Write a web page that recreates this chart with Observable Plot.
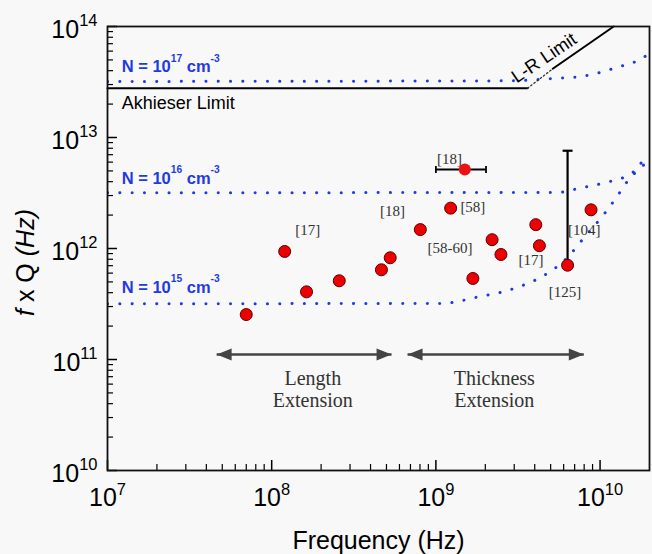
<!DOCTYPE html>
<html><head><meta charset="utf-8">
<script src="https://cdn.jsdelivr.net/npm/d3@7"></script>
<script src="https://cdn.jsdelivr.net/npm/@observablehq/plot@0.6"></script>
<style>body{margin:0;background:#f8f8f8}</style>
</head><body><div id="chart"></div>
<script>
// ---- data ----
const freq = [7.0e7, 1.20e8, 1.63e8, 2.58e8, 4.66e8, 5.27e8, 8.04e8, 1.23e9, 1.68e9, 2.20e9, 2.49e9, 4.06e9, 4.27e9, 6.34e9, 8.81e9];
const fq   = [2.54e11, 9.4e11, 4.07e11, 5.12e11, 6.43e11, 8.25e11, 1.48e12, 2.31e12, 5.37e11, 1.20e12, 8.83e11, 1.64e12, 1.06e12, 7.07e11, 2.23e12];

// point with horizontal error bar ([18])
const errHX = [1.50e9], errHY = [5.15e12], errHLo = [1.0e9], errHHi = [2.02e9];
// vertical error bar on [125]
const errVX = [6.34e9], errVLo = [7.07e11], errVHi = [7.6e12];

// N = 10^15, 10^16, 10^17 cm^-3 curves
const n17X = [1e7, 2.87e9, 4.80e9, 7.66e9, 1.22e10, 1.95e10, 2e10];
const n17Y = [3.2e13, 3.24e13, 3.38e13, 3.55e13, 4.21e13, 5.6e13, 5.8e13];
const n16X = [1e7, 5.5e9, 7.66e9, 1.11e10, 1.48e10, 1.78e10, 2e10];
const n16Y = [3.18e12, 3.2e12, 3.52e12, 3.96e12, 4.55e12, 5.48e12, 6.0e12];
const n15X = [1e7, 1.1e9, 1.45e9, 1.71e9, 2.16e9, 2.61e9, 3.15e9, 3.79e9, 4.47e9, 5.26e9, 6.21e9, 8.02e9, 1.06e10, 1.28e10, 1.48e10, 1.70e10, 1.91e10];
const n15Y = [3.18e11, 3.2e11, 3.4e11, 3.6e11, 3.85e11, 4.10e11, 4.48e11, 4.97e11, 5.63e11, 6.56e11, 8.07e11, 1.26e12, 2.05e12, 3.0e12, 4.10e12, 5.22e12, 7.38e12];
const nLabels = ["N = 10^17 cm^-3", "N = 10^16 cm^-3", "N = 10^15 cm^-3"];
const nLabelX = [1.22e7, 1.22e7, 1.22e7];
const nLabelY = [4.3e13, 4.25e12, 4.43e11];

// Akhieser and L-R limits
const akhX = [1e7, 3.62e9], akhY = [2.78e13, 2.78e13];
const lrDotX = [3.62e9, 5.15e9], lrDotY = [2.78e13, 4.16e13];
const lrX = [5.15e9, 1.21e10], lrY = [4.16e13, 1e14];
const akhLabel = ["Akhieser Limit"], akhLabelX = [1.22e7], akhLabelY = [2.05e13];
const lrLabel = ["L-R Limit"], lrLabelX = [4.56e9], lrLabelY = [5.2e13];

// reference labels
const refLabels = ["[17]", "[18]", "[58]", "[58-60]", "[17]", "[104]", "[125]", "[18]"];
const refLabelX = [1.66e8, 5.45e8, 1.68e9, 1.22e9, 3.80e9, 8.02e9, 6.12e9, 1.21e9];
const refLabelY = [1.47e12, 2.17e12, 2.36e12, 1.01e12, 7.91e11, 1.45e12, 4.04e11, 6.34e12];

// range arrows
const rangeNames = ["Length\nExtension", "Thickness\nExtension"];
const rangeX1 = [4.62e7, 6.72e8], rangeX2 = [5.37e8, 7.96e9];
const rangeY = [1.11e11, 1.11e11];
const rangeLabelX = [1.78e8, 2.27e9], rangeLabelY = [5.44e10, 5.44e10];

// axes
const xMajor = [1e7, 1e8, 1e9, 1e10];
const yMajor = [1e10, 1e11, 1e12, 1e13, 1e14];
const xMinor = d3.range(7, 10).flatMap(e => d3.range(2, 10).map(k => k * 10 ** e)).filter(v => v <= 2e10);
const yMinor = d3.range(10, 14).flatMap(e => d3.range(2, 10).map(k => k * 10 ** e));
const xTitle = "Frequency (Hz)", yTitle = "f x Q (Hz)";

// ---- build ----
const points = freq.map((f, i) => ({f, q: fq[i]}));
const errH = errHX.map((x, i) => ({x, y: errHY[i], lo: errHLo[i], hi: errHHi[i]}));
const errV = errVX.map((x, i) => ({x, lo: errVLo[i], hi: errVHi[i]}));
const curve = (X, Y) => X.map((x, i) => ({x, y: Y[i]}));
const ranges = rangeNames.map((n, i) => ({n, x1: rangeX1[i], x2: rangeX2[i], y: rangeY[i], lx: rangeLabelX[i], ly: rangeLabelY[i]}));

const headRight = {draw(c) { c.moveTo(0, 0); c.lineTo(-15, -6); c.lineTo(-15, 6); c.closePath(); }};
const headLeft  = {draw(c) { c.moveTo(0, 0); c.lineTo(15, -6); c.lineTo(15, 6); c.closePath(); }};
const vCap = {draw(c) { c.moveTo(0, -3.5); c.lineTo(0, 3.5); }};
const hCap = {draw(c) { c.moveTo(-5, 0); c.lineTo(5, 0); }};

const BLUE = "#1f3be0";
const blueDots = {stroke: BLUE, strokeWidth: 3, strokeDasharray: "0.1,12.2", strokeLinecap: "round", curve: "monotone-x", clip: true};
const sup = d => "10^" + Math.round(Math.log10(d));
const at = arr => (d, i) => arr[i];

const svg = Plot.plot({
  width: 652, height: 554,
  marginLeft: 107, marginRight: 3, marginTop: 26, marginBottom: 84,
  x: {type: "log", domain: [1e7, 2e10]},
  y: {type: "log", domain: [1e10, 1e14]},
  style: {background: "#f8f8f8", fontFamily: "'Liberation Sans', Arial, sans-serif", color: "#000"},
  marks: [
    Plot.line(curve(n17X, n17Y), {x: "x", y: "y", ...blueDots}),
    Plot.line(curve(n16X, n16Y), {x: "x", y: "y", ...blueDots}),
    Plot.line(curve(n15X, n15Y), {x: "x", y: "y", ...blueDots}),
    Plot.text(nLabels, {x: at(nLabelX), y: at(nLabelY), text: d => d, textAnchor: "start", fill: BLUE, fontWeight: "bold", fontSize: 16.5}),
    Plot.line(curve(akhX, akhY), {x: "x", y: "y", stroke: "#000", strokeWidth: 2}),
    Plot.line(curve(lrDotX, lrDotY), {x: "x", y: "y", stroke: "#333", strokeWidth: 1.3, strokeDasharray: "1.5,2.5"}),
    Plot.line(curve(lrX, lrY), {x: "x", y: "y", stroke: "#000", strokeWidth: 2}),
    Plot.text(akhLabel, {x: at(akhLabelX), y: at(akhLabelY), text: d => d, textAnchor: "start", fontSize: 18, fill: "#000"}),
    Plot.text(lrLabel, {x: at(lrLabelX), y: at(lrLabelY), text: d => d, textAnchor: "middle", rotate: -34, fontSize: 18.5, fill: "#000"}),
    Plot.text(refLabels, {x: at(refLabelX), y: at(refLabelY), text: d => d,
      fontFamily: "'Liberation Serif', 'Times New Roman', serif", fontSize: 15, fill: "#333"}),
    // error bars
    Plot.link(errV, {x1: "x", x2: "x", y1: "lo", y2: "hi", stroke: "#000", strokeWidth: 2.2}),
    Plot.dot(errV, {x: "x", y: "hi", symbol: hCap, stroke: "#000", strokeWidth: 2.2, fill: "none"}),
    Plot.link(errH, {x1: "lo", x2: "hi", y1: "y", y2: "y", stroke: "#000", strokeWidth: 1.8}),
    Plot.dot(errH, {x: "lo", y: "y", symbol: vCap, stroke: "#000", strokeWidth: 1.8, fill: "none"}),
    Plot.dot(errH, {x: "hi", y: "y", symbol: vCap, stroke: "#000", strokeWidth: 1.8, fill: "none"}),
    Plot.dot(errH, {x: "x", y: "y", r: 6, fill: "#ee1111", stroke: "none"}),
    // data points
    Plot.dot(points, {x: "f", y: "q", r: 6, fill: "#ee0000", stroke: "#5a0000", strokeWidth: 1}),
    // range arrows
    Plot.link(ranges, {x1: "x1", x2: "x2", y1: "y", y2: "y", stroke: "#444", strokeWidth: 2.5}),
    Plot.dot(ranges, {x: "x1", y: "y", symbol: headLeft, fill: "#444", stroke: "none"}),
    Plot.dot(ranges, {x: "x2", y: "y", symbol: headRight, fill: "#444", stroke: "none"}),
    Plot.text(ranges, {x: "lx", y: "ly", text: "n", lineHeight: 1.1, fontSize: 20, fill: "#333",
      fontFamily: "'Liberation Serif', 'Times New Roman', serif"}),
    // ticks (inward)
    Plot.tickY(yMajor, {y: d => d, insetRight: 532, stroke: "#000", strokeWidth: 1.5}),
    Plot.tickY(yMinor, {y: d => d, insetRight: 536, stroke: "#000", strokeWidth: 1.2}),
    Plot.tickX(xMajor, {x: d => d, insetTop: 434, stroke: "#000", strokeWidth: 1.5}),
    Plot.tickX(xMinor, {x: d => d, insetTop: 438, stroke: "#000", strokeWidth: 1.2}),
    Plot.axisX({ticks: xMajor, tickSize: 0, tickPadding: 18, tickFormat: sup, fontSize: 25, label: null}),
    Plot.axisY({ticks: yMajor, tickSize: 0, tickPadding: 10, tickFormat: sup, fontSize: 25, label: null, dy: 3}),
    Plot.text([xTitle], {frameAnchor: "bottom", text: d => d, dy: 70, lineAnchor: "middle", textAnchor: "middle", fontSize: 25, fill: "#000"}),
    Plot.text([yTitle], {frameAnchor: "left", text: d => d, rotate: -90, dx: -82, dy: 14, lineAnchor: "middle", textAnchor: "middle", fontSize: 25, fill: "#000"}),
    Plot.frame({stroke: "#111", strokeWidth: 1.8})
  ]
});
document.getElementById("chart").appendChild(svg);

// superscripts and italics as tspans
const NS = "http://www.w3.org/2000/svg";
svg.querySelectorAll("text").forEach(el => {
  if (el.children.length) return;
  const s = el.textContent;
  const fs = parseFloat(getComputedStyle(el).fontSize);
  if (s.includes("^")) {
    const parts = s.split(/\^(\S+)/);
    const big = fs > 20;
    const supFs = (big ? 0.66 : 0.62) * fs, shift = (big ? 0.47 : 0.66) * fs;
    el.textContent = "";
    let raised = false;
    parts.forEach((p, i) => {
      if (!p) return;
      const t = document.createElementNS(NS, "tspan");
      t.textContent = p;
      if (i % 2) { t.setAttribute("font-size", supFs); t.setAttribute("dy", -shift); raised = true; }
      else if (raised) { t.setAttribute("dy", shift); raised = false; }
      el.appendChild(t);
    });
  } else if (s === yTitle) {
    el.textContent = "";
    [["f", true], [" x Q ", false], ["(Hz)", true]].forEach(([p, it]) => {
      const t = document.createElementNS(NS, "tspan");
      t.textContent = p;
      if (it) t.setAttribute("font-style", "italic");
      el.appendChild(t);
    });
    el.setAttribute("style", "white-space: pre");
  }
});
</script>
</body></html>
